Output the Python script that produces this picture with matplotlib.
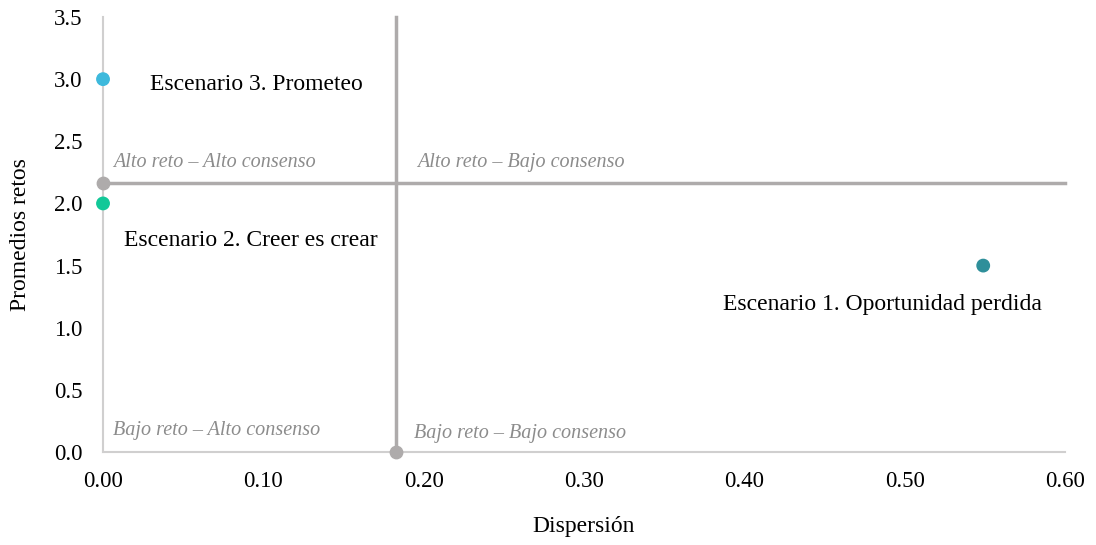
import matplotlib
matplotlib.use("Agg")
import matplotlib.pyplot as plt
from matplotlib.ticker import FormatStrFormatter

plt.rcParams['font.family'] = ['Liberation Serif', 'DejaVu Serif']

# Data
scen_names = ["Escenario 1. Oportunidad perdida", "Escenario 2. Creer es crear", "Escenario 3. Prometeo"]
scen_x = [0.549, 0.0, 0.0]
scen_y = [1.5, 2.0, 3.0]
scen_colors = ["#2e8f9a", "#12c898", "#3db9dc"]
# reference (mean) lines
mean_x = 0.183
mean_y = 2.165
quadrants = ["Alto reto – Alto consenso", "Alto reto – Bajo consenso",
             "Bajo reto – Alto consenso", "Bajo reto – Bajo consenso"]
x_ticks = [0.0, 0.1, 0.2, 0.3, 0.4, 0.5, 0.6]
y_ticks = [0.0, 0.5, 1.0, 1.5, 2.0, 2.5, 3.0, 3.5]

fig = plt.figure(figsize=(10.96, 5.45), dpi=100)
ax = fig.add_axes([0.094, 0.1706, 0.8777, 0.7982])
ax.set_xlim(0, 0.6)
ax.set_ylim(0, 3.5)
ax.set_xticks(x_ticks)
ax.set_yticks(y_ticks)
ax.xaxis.set_major_formatter(FormatStrFormatter('%.2f'))
ax.yaxis.set_major_formatter(FormatStrFormatter('%.1f'))
ax.tick_params(length=0, labelsize=16.5)
ax.tick_params(axis='y', pad=15)
ax.tick_params(axis='x', pad=14)

for s in ["top", "right"]:
    ax.spines[s].set_visible(False)
ax.spines["left"].set_color("#d0cfcf")
ax.spines["left"].set_linewidth(1.5)
ax.spines["bottom"].set_color("#d0cfcf")
ax.spines["bottom"].set_linewidth(1.5)

gray = "#aeabab"
ax.plot([0, 0.6], [mean_y, mean_y], color=gray, lw=2.5, zorder=3, clip_on=False)
ax.plot([mean_x, mean_x], [0, 3.5], color=gray, lw=2.5, zorder=3, clip_on=False)
ax.scatter([0, mean_x], [mean_y, 0], s=80, color=gray, zorder=4, clip_on=False)

ax.scatter(scen_x, scen_y, s=80, c=scen_colors, zorder=5, clip_on=False)

ax.text(0.0295, 2.958, scen_names[2], fontsize=17, va='center', ha='left')
ax.text(0.013, 1.704, scen_names[1], fontsize=17, va='center', ha='left')
ax.text(0.3865, 1.186, scen_names[0], fontsize=17, va='center', ha='left')

qcol = "#8c8c8c"
ax.text(0.006, 2.332, quadrants[0], fontsize=14.5, style='italic', color=qcol, va='center')
ax.text(0.196, 2.332, quadrants[1], fontsize=14.5, style='italic', color=qcol, va='center')
ax.text(0.006, 0.176, quadrants[2], fontsize=14.5, style='italic', color=qcol, va='center')
ax.text(0.194, 0.146, quadrants[3], fontsize=14.5, style='italic', color=qcol, va='center')

ax.set_xlabel("Dispersión", fontsize=17, labelpad=17)
ax.set_ylabel("Promedios retos", fontsize=17, labelpad=16)

fig.savefig("out.png", dpi=100)
